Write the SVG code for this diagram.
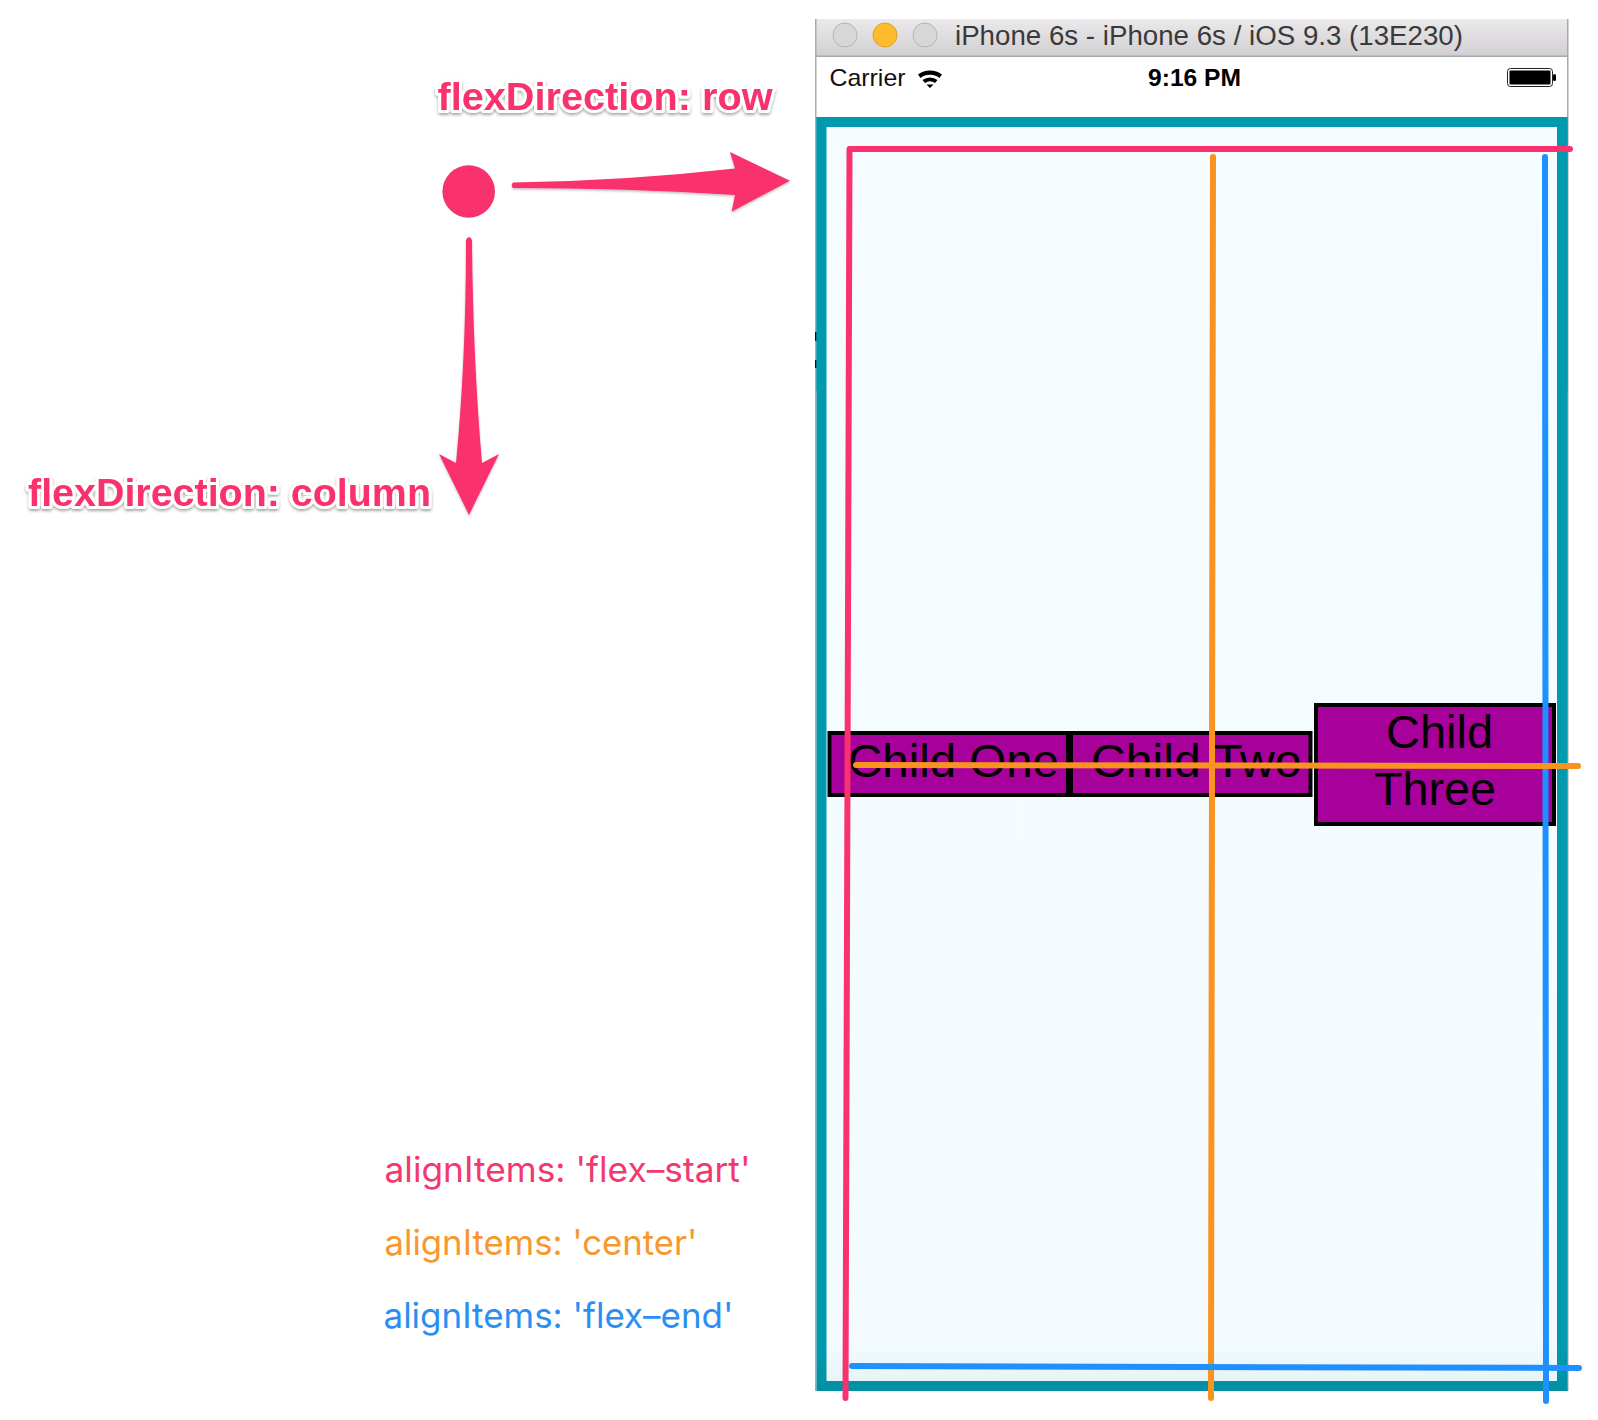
<svg xmlns="http://www.w3.org/2000/svg" width="1598" height="1420" viewBox="0 0 1598 1420">
<defs>
<linearGradient id="tb" x1="0" y1="0" x2="0" y2="1"><stop offset="0" stop-color="#ebe9eb"/><stop offset="1" stop-color="#d1cfd1"/></linearGradient>
<linearGradient id="bg" x1="0" y1="0" x2="0" y2="1"><stop offset="0" stop-color="#f4fcff"/><stop offset="0.97" stop-color="#f3fbfe"/><stop offset="1" stop-color="#e6f4f8"/></linearGradient>
<linearGradient id="teal" x1="0" y1="0" x2="0" y2="1"><stop offset="0" stop-color="#0199ae"/><stop offset="0.97" stop-color="#0199ae"/><stop offset="1" stop-color="#018fa3"/></linearGradient>
<filter id="halo" x="-5%" y="-30%" width="110%" height="170%"><feDropShadow dx="0" dy="2" stdDeviation="1.5" flood-color="#000" flood-opacity="0.35"/></filter>
<filter id="ash" x="-10%" y="-20%" width="120%" height="140%"><feDropShadow dx="0" dy="1.5" stdDeviation="1.2" flood-color="#000" flood-opacity="0.25"/></filter>
</defs>
<style>
.sans{font-family:"Liberation Sans",Arial,sans-serif}
.head{font-family:"Liberation Sans",Arial,sans-serif;font-weight:700;font-size:39.5px;fill:#f9316d;stroke:#fff;stroke-width:6px;stroke-linejoin:round;paint-order:stroke;filter:url(#halo)}
.note{font-family:Inter,"Liberation Sans",sans-serif;font-size:35px}
.child{fill:#a8009a;stroke:#000;stroke-width:4px}
.ctext{font-family:"Liberation Sans",Arial,sans-serif;font-size:47px;fill:#000;text-anchor:start}
.line{fill:none;stroke-width:6px;stroke-linecap:round;stroke-linejoin:round}
.pink{stroke:#f9316d}.orange{stroke:#f8931f}.blue{stroke:#1e90ff}
.dot{stroke:#b5b5b5;stroke-width:1px;fill:#d8d6d8}
</style>
<rect width="1598" height="1420" fill="#fff"/>

<g id="simulator-window">
<rect x="815" y="19" width="753" height="372" fill="#fff"/>
<rect x="815" y="19" width="753" height="37" fill="url(#tb)"/>
<rect x="815" y="55.500" width="753" height="1.500" fill="#a8a8a8"/>
<rect x="815" y="19" width="1.500" height="1372" fill="#a9a9a9"/>
<rect x="1567" y="19" width="1.500" height="1372" fill="#a9a9a9"/>
<rect x="815" y="332" width="2" height="9" fill="#111"/>
<rect x="815" y="360" width="2" height="8" fill="#111"/>
<circle class="dot" cx="845" cy="35" r="12"/>
<circle cx="885" cy="35" r="12" fill="#fdbb2d" stroke="#dfa023"/>
<circle class="dot" cx="925" cy="35" r="12"/>
<text class="sans" x="955" y="45" font-size="27" fill="#3a3a3a" textLength="508" lengthAdjust="spacingAndGlyphs">iPhone 6s - iPhone 6s / iOS 9.3 (13E230)</text>
</g>

<g id="status-bar">
<text class="sans" x="829.500" y="86" font-size="24" fill="#111" textLength="76" lengthAdjust="spacingAndGlyphs">Carrier</text>
<path d="M918 74.500a20 20 0 0 1 24 0l-2.500 3.500a15.500 15.500 0 0 0-19 0zM922.500 80a12.500 12.500 0 0 1 15 0l-2.500 3a8.500 8.500 0 0 0-10 0zM926.500 84.500h7l-3.500 3.500z" fill="#000"/>
<text class="sans" x="1148" y="86" font-size="24" font-weight="700" fill="#000" textLength="93" lengthAdjust="spacingAndGlyphs">9:16 PM</text>
<rect x="1507.500" y="68.500" width="45" height="18" rx="3" fill="#fff" stroke="#222" stroke-width="1"/>
<rect x="1509.500" y="70.500" width="41" height="14" rx="1" fill="#000"/>
<rect x="1553" y="74" width="3" height="7" rx="1.500" fill="#000"/>
</g>

<g id="container">
<rect x="816.500" y="117" width="751" height="274" fill="#0199ae"/>
<rect x="816.500" y="117" width="751" height="1274" fill="url(#teal)"/>
<rect x="826.500" y="127" width="730.500" height="1254" fill="url(#bg)"/>
</g>

<g id="child-one">
<rect class="child" x="829.500" y="733" width="238.500" height="62"/>
<text class="ctext" x="848" y="777" textLength="211" lengthAdjust="spacingAndGlyphs">Child One</text>
</g>
<g id="child-two">
<rect class="child" x="1071" y="733" width="239.500" height="62"/>
<text class="ctext" x="1091" y="777" textLength="210.500" lengthAdjust="spacingAndGlyphs">Child Two</text>
</g>
<g id="child-three">
<rect class="child" x="1316" y="705" width="238" height="119"/>
<text class="ctext" x="1386" y="748" textLength="107" lengthAdjust="spacingAndGlyphs">Child</text>
<text class="ctext" x="1374" y="805" textLength="122" lengthAdjust="spacingAndGlyphs">Three</text>
</g>

<g id="connectors">
<path class="line pink" d="M1570 149H849.500L845.500 1398"/>
<path class="line orange" d="M1213 157L1211 1398"/>
<path class="line blue" d="M1545 157L1546 1401"/>
<path class="line orange" d="M856 765L1578 766"/>
<path class="line blue" d="M852 1366L1579 1368"/>
<path id="arrow-row" fill="#f9316d" filter="url(#ash)" d="M513 182.500Q625 181 735 168.500L730 152L790 180.700L731.500 211.700L735 195Q625 188 513 188Q510.500 185 513 182.500Z"/>
<path id="arrow-column" fill="#f9316d" filter="url(#ash)" d="M466 240Q469 234 472 240Q473 360 482 463L499 454L469 515L439 454L456 463Q466 360 466 240Z"/>
</g>

<g id="origin"><circle cx="468.700" cy="191.500" r="26.300" fill="#f9316d"/></g>

<g id="labels">
<text class="head" x="437.500" y="110" textLength="335" lengthAdjust="spacingAndGlyphs">flexDirection: row</text>
<text class="head" x="28" y="506" textLength="403" lengthAdjust="spacingAndGlyphs">flexDirection: column</text>
<text class="note" x="384.500" y="1182" fill="#f2386f" textLength="366" lengthAdjust="spacingAndGlyphs">alignItems: 'flex–start'</text>
<text class="note" x="384.500" y="1255" fill="#f7982f" textLength="313" lengthAdjust="spacingAndGlyphs">alignItems: 'center'</text>
<text class="note" x="383.500" y="1328" fill="#2b8ff2" textLength="350" lengthAdjust="spacingAndGlyphs">alignItems: 'flex–end'</text>
</g>
</svg>
